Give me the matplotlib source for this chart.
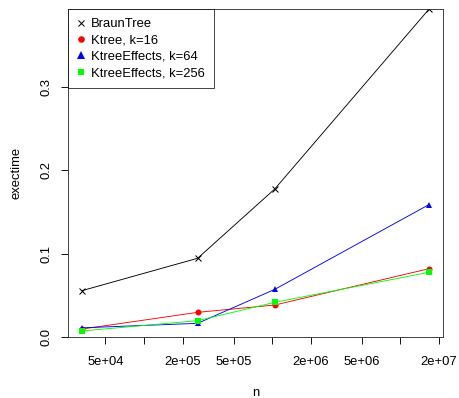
import math
import matplotlib
matplotlib.use("Agg")
import matplotlib.pyplot as plt
from matplotlib.ticker import FixedLocator, NullLocator

plt.rcParams['font.family'] = ['Liberation Sans', 'DejaVu Sans']

n = [2**15, 2**18, 2**20, 2**24]
braun_tree = [0.0556, 0.0945, 0.1777, 0.3937]
ktree_16 = [0.0095, 0.0296, 0.0384, 0.0820]
ktree_effects_64 = [0.0110, 0.0164, 0.0572, 0.1590]
ktree_effects_256 = [0.0072, 0.0196, 0.0416, 0.0777]

series = [
    ("BraunTree", braun_tree, "black", "x", 6),
    ("Ktree, k=16", ktree_16, "red", "o", 6),
    ("KtreeEffects, k=64", ktree_effects_64, "blue", "^", 6.5),
    ("KtreeEffects, k=256", ktree_effects_256, "#00ff00", "s", 5.5),
]

x_ticks = [5e4, 1e5, 2e5, 5e5, 1e6, 2e6, 5e6, 1e7, 2e7]
x_tick_labels = ["5e+04", "", "2e+05", "5e+05", "", "2e+06", "5e+06", "", "2e+07"]
y_ticks = [0.0, 0.1, 0.2, 0.3]
y_tick_labels = ["0.0", "0.1", "0.2", "0.3"]

fs = 13
dpi = 72
fig = plt.figure(figsize=(459 / dpi, 398 / dpi), dpi=dpi)
ax = fig.add_axes([68 / 459, 1 - 337 / 398, (443 - 68) / 459, (337 - 9) / 398])

for label, vals, color, marker, ms in series:
    mew = 1.0 if marker == "x" else 0
    ax.plot(n, vals, color=color, lw=0.9, marker=marker, markersize=ms,
            markeredgewidth=mew, label=label)

ax.set_xscale("log")
lo, hi = min(n), max(n)
span = math.log10(hi) - math.log10(lo)
ax.set_xlim(10 ** (math.log10(lo) - 0.04 * span), 10 ** (math.log10(hi) + 0.04 * span))
ax.set_ylim(0, max(braun_tree))

ax.xaxis.set_major_locator(FixedLocator(x_ticks))
ax.xaxis.set_minor_locator(NullLocator())
ax.set_xticklabels(x_tick_labels)
ax.set_yticks(y_ticks)
ax.set_yticklabels(y_tick_labels, rotation=90, va="center")

ax.tick_params(axis="both", direction="out", length=7, width=0.9, labelsize=fs, colors="black")
ax.tick_params(axis="x", pad=12)
ax.tick_params(axis="y", pad=8)
for s in ax.spines.values():
    s.set_linewidth(0.9)
    s.set_color("#333333")

ax.set_xlabel("n", fontsize=fs, labelpad=19)
ax.set_ylabel("exectime", fontsize=fs, labelpad=19)

leg = ax.legend(loc="upper left", fontsize=fs, frameon=True, fancybox=False,
                borderaxespad=0, handlelength=0.6, handletextpad=0.45,
                borderpad=0.7, labelspacing=0.33, markerscale=1.1)
leg.get_frame().set_edgecolor("black")
leg.get_frame().set_linewidth(0.9)
for h in leg.get_lines():
    h.set_linestyle("none")

fig.savefig("out.png", dpi=dpi)
